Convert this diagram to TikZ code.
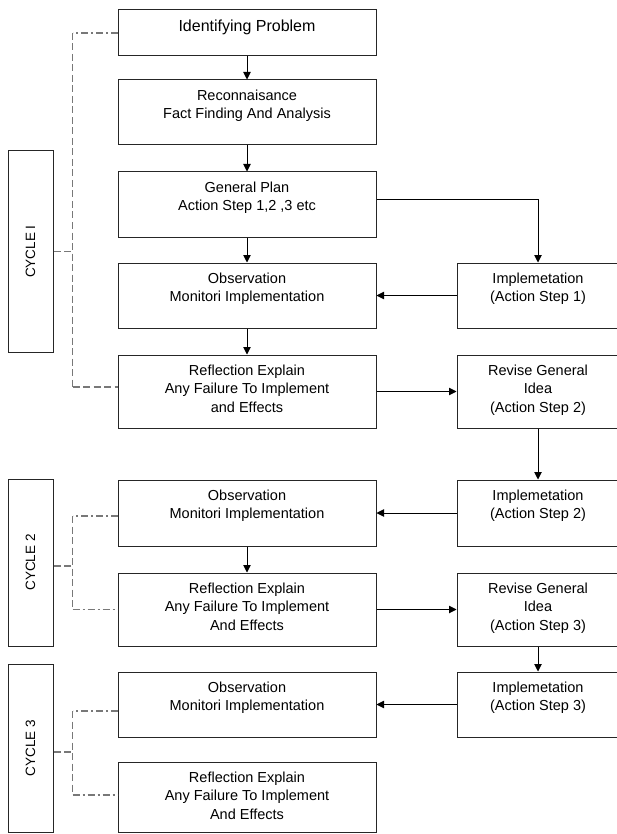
\documentclass[tikz,border=0pt]{standalone}
\usepackage{fontspec}
\setmainfont{Liberation Sans}
\usetikzlibrary{arrows.meta}
\definecolor{dashgray}{RGB}{120,120,120}
\tikzset{
  box/.style={draw=black!85, line width=1pt, rectangle, inner sep=0pt},
  lbox/.style={box, minimum width=258pt},
  rbox/.style={box, minimum width=176pt},
  cbox/.style={box, minimum width=45pt},
  txt/.style={inner sep=0pt, align=center, font=\fontsize{14.5}{18.5}\selectfont},
  conn/.style={line width=0.9pt, -{Triangle[length=7.5pt,width=7.5pt]}},
  dd/.style={draw=dashgray, line width=1.4pt, dash pattern=on 7pt off 3pt on 2pt off 3pt},
  ds/.style={draw=dashgray, line width=1.4pt, dash pattern=on 7pt off 3.5pt},
}
\begin{document}
\begin{tikzpicture}[x=1pt,y=-1pt]
\useasboundingbox (0,0) rectangle (617,834);
% left column boxes
\node[lbox, minimum height=46pt] (ip) at (247,33) {};
\node[inner sep=0pt, font=\fontsize{16}{19}\selectfont, anchor=north] (ipt) at ([yshift=-10pt]ip.north) {Identifying Problem};
\node[lbox, minimum height=65pt] (rc) at (247,112.5) {};
\node[txt, anchor=north] (rct) at ([yshift=-10pt]rc.north) {Reconnaisance\\Fact Finding And Analysis};
\node[lbox, minimum height=65pt] (gp) at (247,204.5) {};
\node[txt, anchor=north] (gpt) at ([yshift=-10pt]gp.north) {General Plan\\Action Step 1,2 ,3 etc};
\node[lbox, minimum height=65pt] (o1) at (247,295.5) {};
\node[txt, anchor=north] (o1t) at ([yshift=-10pt]o1.north) {Observation\\Monitori Implementation};
\node[lbox, minimum height=73pt] (r1) at (247,391.5) {};
\node[txt, anchor=north] (r1t) at ([yshift=-10pt]r1.north) {Reflection Explain\\Any Failure To Implement\\and Effects};
\node[lbox, minimum height=66pt] (o2) at (247,513) {};
\node[txt, anchor=north] (o2t) at ([yshift=-10pt]o2.north) {Observation\\Monitori Implementation};
\node[lbox, minimum height=73pt] (r2) at (247,609.5) {};
\node[txt, anchor=north] (r2t) at ([yshift=-10pt]r2.north) {Reflection Explain\\Any Failure To Implement\\And Effects};
\node[lbox, minimum height=65pt] (o3) at (247,704.5) {};
\node[txt, anchor=north] (o3t) at ([yshift=-10pt]o3.north) {Observation\\Monitori Implementation};
\node[lbox, minimum height=70pt] (r3) at (247,797) {};
\node[txt, anchor=north] (r3t) at ([yshift=-10pt]r3.north) {Reflection Explain\\Any Failure To Implement\\And Effects};
% right column boxes (cut off by the right edge)
\node[rbox, minimum height=65pt] (i1) at (545,295.5) {};
\node[txt, anchor=north] (i1t) at ([xshift=-7pt,yshift=-10pt]i1.north) {Implemetation\\(Action Step 1)};
\node[rbox, minimum height=73pt] (v1) at (545,391.5) {};
\node[txt, anchor=north] (v1t) at ([xshift=-7pt,yshift=-10pt]v1.north) {Revise General\\Idea\\(Action Step 2)};
\node[rbox, minimum height=66pt] (i2) at (545,513) {};
\node[txt, anchor=north] (i2t) at ([xshift=-7pt,yshift=-10pt]i2.north) {Implemetation\\(Action Step 2)};
\node[rbox, minimum height=73pt] (v2) at (545,609.5) {};
\node[txt, anchor=north] (v2t) at ([xshift=-7pt,yshift=-10pt]v2.north) {Revise General\\Idea\\(Action Step 3)};
\node[rbox, minimum height=65pt] (i3) at (545,704.5) {};
\node[txt, anchor=north] (i3t) at ([xshift=-7pt,yshift=-10pt]i3.north) {Implemetation\\(Action Step 3)};
% cycle boxes
\node[cbox, minimum height=201pt] (c1) at (30.5,251.5) {};
\node[inner sep=0pt, rotate=90, font=\fontsize{13.5}{16}\selectfont] (c1t) at (c1.center) {CYCLE I};
\node[cbox, minimum height=167pt] (c2) at (30.5,562.5) {};
\node[inner sep=0pt, rotate=90, font=\fontsize{13.5}{16}\selectfont] (c2t) at (c2.center) {CYCLE 2};
\node[cbox, minimum height=168pt] (c3) at (30.5,748) {};
\node[inner sep=0pt, rotate=90, font=\fontsize{13.5}{16}\selectfont] (c3t) at (c3.center) {CYCLE 3};
% connectors
\coordinate (xr) at (538,0);
\draw[conn] (ip) -- (rc);
\draw[conn] (rc) -- (gp);
\draw[conn] (gp) -- (o1);
\draw[conn] ([yshift=5pt]gp.east) -| (xr |- i1.north);
\draw[conn] (i1) -- (o1);
\draw[conn] (o1) -- (r1);
\draw[conn] (r1) -- (v1);
\draw[conn] (xr |- v1.south) -- (xr |- i2.north);
\draw[conn] (i2) -- (o2);
\draw[conn] (o2) -- (r2);
\draw[conn] (r2) -- (v2);
\draw[conn] (xr |- v2.south) -- (xr |- i3.north);
\draw[conn] (i3) -- (o3);
% cycle brackets
\coordinate (a1) at (72.5,33);
\coordinate (a2) at (72.5,387);
\coordinate (a3) at (72.5,251.5);
\draw[dd] (ip.west) -- (a1);
\draw[ds] (a1) -- (a2);
\draw[ds] (a2) -- (a2 -| r1.west);
\draw[ds] (c1.east) -- (a3);
\coordinate (b1) at (72.5,516);
\coordinate (b2) at (72.5,609.5);
\coordinate (b3) at (72.5,566);
\draw[dd] (b1 -| o2.west) -- (b1);
\draw[ds] (b1) -- (b2);
\draw[dd] (b2) -- (r2.west);
\draw[ds] (b3 -| c2.east) -- (b3);
\coordinate (d1) at (72.5,711);
\coordinate (d2) at (72.5,795);
\coordinate (d3) at (72.5,752);
\draw[dd] (d1 -| o3.west) -- (d1);
\draw[ds] (d1) -- (d2);
\draw[dd] (d2) -- (d2 -| r3.west);
\draw[ds] (d3 -| c3.east) -- (d3);
\end{tikzpicture}
\end{document}
